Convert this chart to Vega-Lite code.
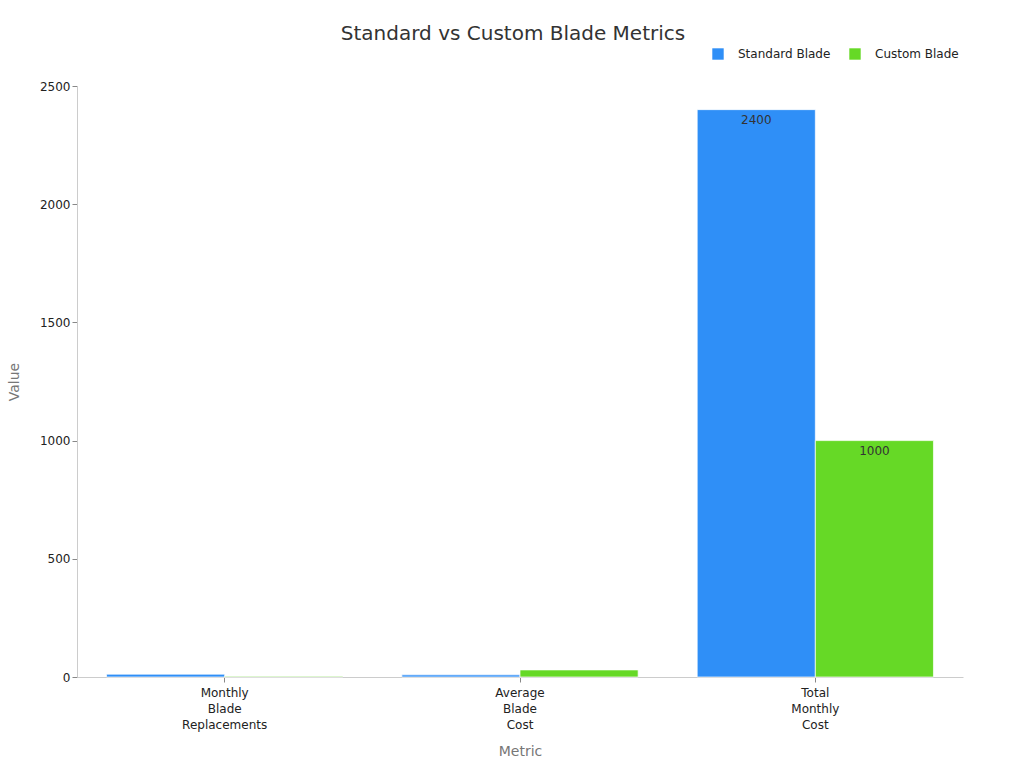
{
  "$schema": "https://vega.github.io/schema/vega-lite/v6.json",
  "autosize": {"type": "none"},
  "padding": {"left": 77, "top": 86, "right": 61, "bottom": 91},
  "width": 886,
  "height": 591,
  "title": {
    "text": "Standard vs Custom Blade Metrics",
    "fontSize": 20,
    "fontWeight": "normal",
    "font": "DejaVu Sans",
    "color": "#333333",
    "offset": 4,
    "anchor": "middle",
    "dx": -7
  },
  "config": {
    "font": "DejaVu Sans",
    "view": {"stroke": null}
  },
  "data": {
    "values": [
      {"metric": "Monthly Blade Replacements", "blade": "Standard Blade", "value": 12},
      {"metric": "Monthly Blade Replacements", "blade": "Custom Blade", "value": 3},
      {"metric": "Average Blade Cost", "blade": "Standard Blade", "value": 9},
      {"metric": "Average Blade Cost", "blade": "Custom Blade", "value": 30},
      {"metric": "Total Monthly Cost", "blade": "Standard Blade", "value": 2400},
      {"metric": "Total Monthly Cost", "blade": "Custom Blade", "value": 1000}
    ]
  },
  "encoding": {
    "x": {
      "field": "metric",
      "type": "nominal",
      "sort": null,
      "title": "Metric",
      "scale": {"paddingInner": 0.2, "paddingOuter": 0.1},
      "axis": {
        "labelAngle": 0,
        "labelExpr": "split(datum.label, ' ')",
        "labelFontSize": 12,
        "labelColor": "#222222",
        "labelLineHeight": 16,
        "labelPadding": 5,
        "domainColor": "#cccccc",
        "tickColor": "#888888",
        "tickSize": 5,
        "titleFontSize": 14,
        "titleFontWeight": "normal",
        "titleColor": "#777777",
        "titlePadding": 14
      }
    },
    "xOffset": {"field": "blade", "type": "nominal", "sort": ["Standard Blade", "Custom Blade"]},
    "y": {
      "field": "value",
      "type": "quantitative",
      "title": "Value",
      "scale": {"domain": [0, 2500]},
      "axis": {
        "values": [0, 500, 1000, 1500, 2000, 2500],
        "format": "d",
        "grid": false,
        "labelFontSize": 12,
        "labelColor": "#222222",
        "domainColor": "#cccccc",
        "tickColor": "#888888",
        "tickSize": 5,
        "titleFontSize": 14,
        "titleFontWeight": "normal",
        "titleColor": "#777777",
        "titlePadding": 18
      }
    }
  },
  "layer": [
    {
      "mark": {"type": "bar", "stroke": "#ffffff", "strokeWidth": 1, "strokeOpacity": 0.7},
      "encoding": {
        "color": {
          "field": "blade",
          "type": "nominal",
          "sort": ["Standard Blade", "Custom Blade"],
          "title": null,
          "scale": {"domain": ["Standard Blade", "Custom Blade"], "range": ["#2f8ff7", "#66d926"]},
          "legend": {
            "orient": "none",
            "direction": "horizontal",
            "legendX": 635,
            "legendY": -38,
            "symbolType": "square",
            "symbolSize": 130,
            "symbolStrokeWidth": 0,
            "labelFontSize": 12,
            "labelColor": "#222222",
            "labelOffset": 14,
            "columnPadding": 18
          }
        }
      }
    },
    {
      "transform": [{"filter": "datum.value > 100"}],
      "mark": {"type": "text", "baseline": "top", "dy": 5, "fontSize": 12, "color": "#333333"},
      "encoding": {
        "text": {"field": "value", "type": "quantitative"}
      }
    }
  ]
}
